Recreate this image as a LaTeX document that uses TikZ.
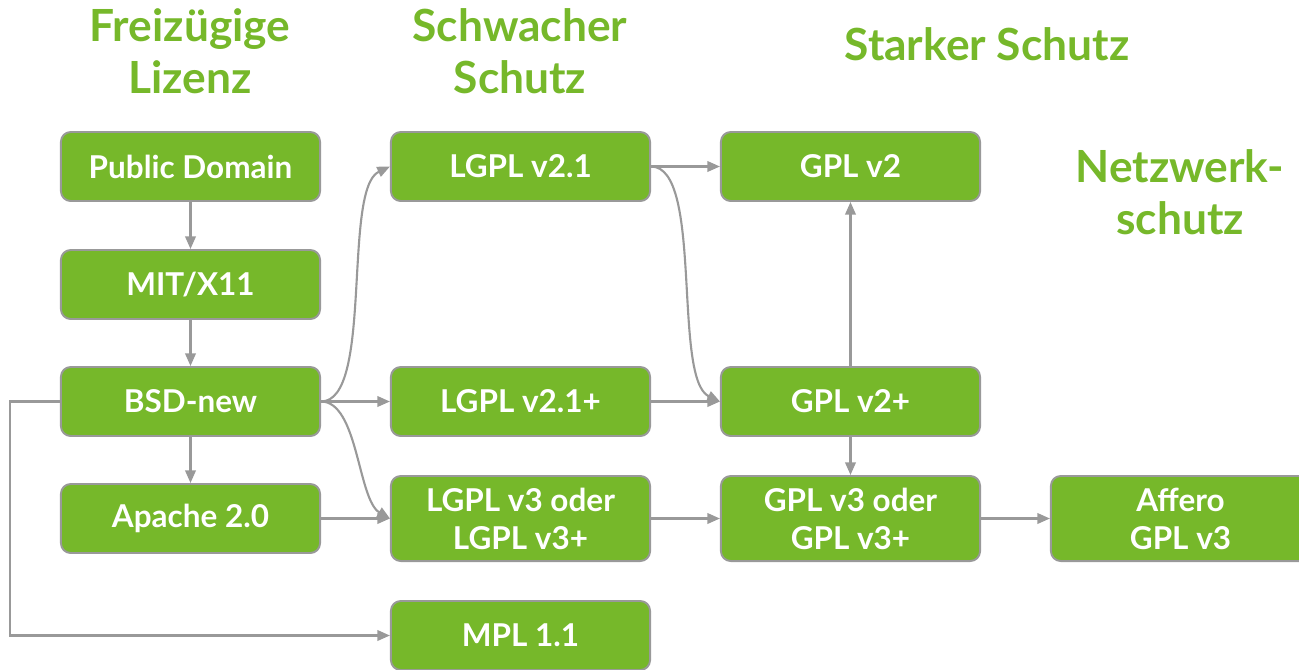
\documentclass[tikz,border=0pt]{standalone}
\usepackage{fontspec}
\setmainfont{Lato}
\usetikzlibrary{arrows.meta}
\definecolor{lizgreen}{HTML}{76B82A}
\definecolor{lizgray}{HTML}{999999}
\begin{document}
\begin{tikzpicture}[x=0.01cm,y=-0.01cm,
    lic/.style={draw=lizgray,line width=0.55pt,fill=lizgreen,rounded corners=2.8pt,
        minimum width=2.59cm,minimum height=0.69cm,text=white,align=center,
        font=\fontsize{8.95}{10.8}\selectfont\bfseries},
    tall/.style={lic,minimum height=0.85cm},
    head/.style={text=lizgreen,align=center,font=\fontsize{12.6}{14.7}\selectfont\bfseries},
    ->/.style={draw=lizgray,line width=0.6pt,-{Triangle[length=3.6pt,width=3pt]}}]
    \useasboundingbox (0,0) rectangle (1299,669);
    \node[head] (h1) at (190,51) {Freizügige\\Lizenz};
    \node[head] (h2) at (520,51) {Schwacher\\Schutz};
    \node[head] (h3) at (987,44) {Starker Schutz};
    \node[head] (h4) at (1180,192) {Netzwerk-\\schutz};
    \node[lic] (pd) at (190.5,166.5) {Public Domain};
    \node[lic] (mit) at (190.5,284.5) {MIT/X11};
    \node[lic] (bsd) at (190.5,401.5) {BSD-new};
    \node[lic] (apache) at (190.5,518.5) {Apache 2.0};
    \node[lic] (lgpl21) at (520.5,166.5) {LGPL v2.1};
    \node[lic] (lgpl21p) at (520.5,401.5) {LGPL v2.1+};
    \node[tall] (lgpl3) at (520.5,518.5) {LGPL v3 oder\\LGPL v3+};
    \node[lic] (mpl) at (520.5,635.5) {MPL 1.1};
    \node[lic] (gpl2) at (850.5,166.5) {GPL v2};
    \node[lic] (gpl2p) at (850.5,401.5) {GPL v2+};
    \node[tall] (gpl3) at (850.5,518.5) {GPL v3 oder\\GPL v3+};
    \node[tall] (affero) at (1180.5,518.5) {Affero\\GPL v3};
    \draw [->] (pd) -- (mit);
    \draw [->] (mit) -- (bsd);
    \draw [->] (bsd) -- (apache);
    \draw [->] (bsd.east) to[out=0,in=205,looseness=0.55] (lgpl21.west);
    \draw [->] (bsd.east) -- (lgpl21p.west);
    \draw [->] (bsd.east) to[out=0,in=150,looseness=0.7] (lgpl3.west);
    \draw [->] (apache.east) -- (apache.east -| lgpl3.west);
    \draw [->] (bsd.west) -| (10,635.5) -- (mpl.west);
    \draw [->] (lgpl21.east) -- (gpl2.west);
    \draw [->] (lgpl21.east) to[out=0,in=155,looseness=0.55] (gpl2p.west);
    \draw [->] (lgpl21p.east) -- (gpl2p.west);
    \draw [->] (gpl2p) -- (gpl2);
    \draw [->] (gpl2p) -- (gpl3);
    \draw [->] (lgpl3) -- (gpl3);
    \draw [->] (gpl3) -- (affero);
\end{tikzpicture}
\end{document}
